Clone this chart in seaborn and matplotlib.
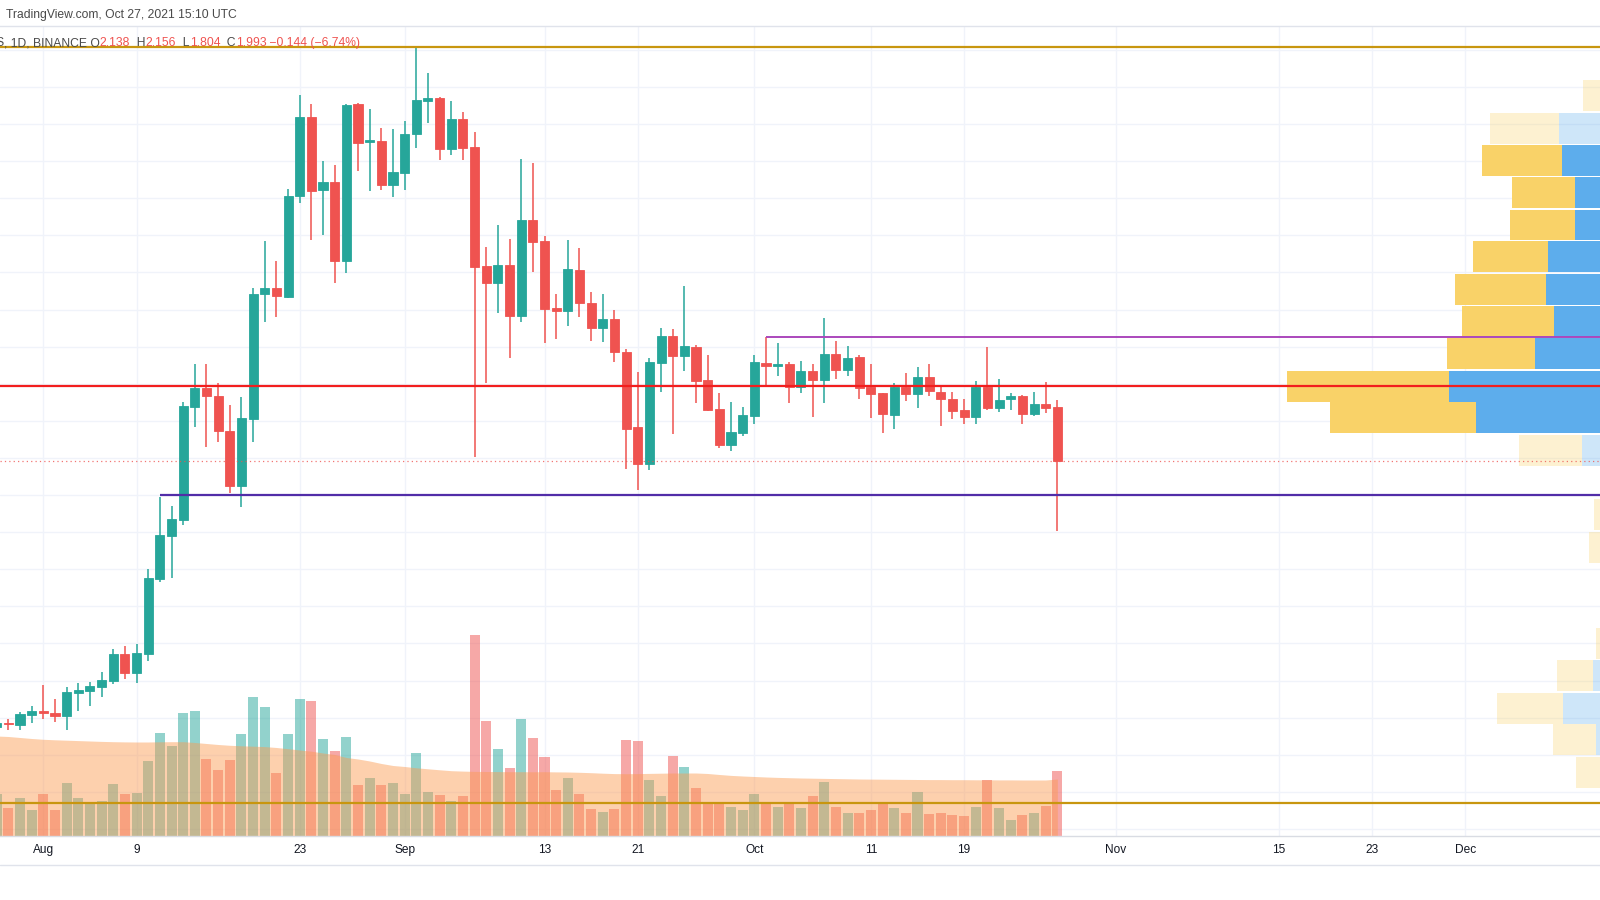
import numpy as np
import pandas as pd
import matplotlib
matplotlib.use("Agg")
import matplotlib.pyplot as plt
import matplotlib.dates as mdates
from matplotlib.lines import Line2D
from matplotlib.text import Annotation
import seaborn as sns

# ---------------- data ----------------
dates = pd.date_range("2021-07-28", "2021-10-27", freq="D")

opens = [1.275, 1.287, 1.280, 1.308,
         1.319, 1.313, 1.305, 1.366, 1.372, 1.384, 1.399, 1.471, 1.421, 1.471, 1.674, 1.791, 1.832, 2.138, 2.189, 2.167,
         2.074, 1.925, 2.105, 2.442, 2.459, 2.435, 2.707, 2.920, 2.722, 2.743, 2.531, 2.953, 2.851, 2.854, 2.736,
         2.769, 2.873, 2.962, 2.969, 2.833, 2.915, 2.837, 2.518, 2.473, 2.520, 2.384, 2.642, 2.584, 2.404, 2.397,
         2.507, 2.419, 2.350, 2.374, 2.287, 2.083, 1.984, 2.257, 2.330, 2.276, 2.300, 2.209, 2.132, 2.035, 2.067,
         2.113, 2.255, 2.249, 2.253, 2.191, 2.234, 2.210, 2.280, 2.237, 2.271, 2.191, 2.174, 2.116, 2.191, 2.172,
         2.219, 2.179, 2.159, 2.129, 2.111, 2.192, 2.136, 2.158, 2.167, 2.119, 2.146, 2.138]
highs = [1.295, 1.296, 1.316, 1.332,
         1.388, 1.350, 1.384, 1.394, 1.396, 1.423, 1.484, 1.493, 1.499, 1.702, 1.896, 1.871, 2.151, 2.253, 2.253, 2.201,
         2.143, 2.165, 2.457, 2.585, 2.532, 2.725, 2.978, 2.954, 2.801, 2.790, 2.954, 2.956, 2.940, 2.889, 2.887,
         2.909, 3.107, 3.037, 2.972, 2.962, 2.932, 2.880, 2.568, 2.628, 2.590, 2.805, 2.794, 2.598, 2.441, 2.588,
         2.565, 2.447, 2.441, 2.399, 2.294, 2.231, 2.269, 2.350, 2.347, 2.464, 2.305, 2.278, 2.176, 2.152, 2.138,
         2.278, 2.325, 2.311, 2.258, 2.261, 2.253, 2.377, 2.316, 2.302, 2.278, 2.253, 2.176, 2.201, 2.230, 2.246,
         2.253, 2.191, 2.179, 2.159, 2.208, 2.300, 2.212, 2.176, 2.170, 2.179, 2.206, 2.156]
lows = [1.262, 1.267, 1.267, 1.286,
        1.296, 1.289, 1.267, 1.319, 1.332, 1.357, 1.391, 1.405, 1.393, 1.454, 1.667, 1.677, 1.819, 2.083, 2.030, 2.044,
        1.905, 1.869, 2.044, 2.367, 2.381, 2.430, 2.686, 2.588, 2.601, 2.471, 2.498, 2.774, 2.720, 2.722, 2.704,
        2.722, 2.835, 2.902, 2.803, 2.817, 2.803, 2.002, 2.201, 2.392, 2.270, 2.367, 2.502, 2.309, 2.320, 2.356,
        2.381, 2.314, 2.312, 2.260, 1.970, 1.914, 1.968, 2.179, 2.064, 2.235, 2.147, 2.128, 2.028, 2.020, 2.058,
        2.092, 2.192, 2.221, 2.149, 2.174, 2.110, 2.149, 2.212, 2.221, 2.159, 2.107, 2.068, 2.077, 2.154, 2.136,
        2.168, 2.087, 2.105, 2.092, 2.091, 2.129, 2.125, 2.129, 2.091, 2.113, 2.122, 1.804]
closes = [1.287, 1.283, 1.310, 1.319,
          1.312, 1.305, 1.368, 1.374, 1.385, 1.402, 1.471, 1.421, 1.474, 1.677, 1.792, 1.835, 2.140, 2.189, 2.167, 2.073,
          1.925, 2.107, 2.442, 2.459, 2.437, 2.707, 2.920, 2.720, 2.743, 2.531, 2.951, 2.850, 2.857, 2.736, 2.771,
          2.873, 2.965, 2.969, 2.833, 2.915, 2.836, 2.516, 2.473, 2.520, 2.384, 2.642, 2.582, 2.402, 2.397, 2.509,
          2.417, 2.350, 2.374, 2.285, 2.077, 1.984, 2.260, 2.330, 2.276, 2.303, 2.208, 2.129, 2.035, 2.069, 2.116,
          2.260, 2.249, 2.253, 2.191, 2.234, 2.210, 2.280, 2.237, 2.269, 2.188, 2.172, 2.119, 2.191, 2.172, 2.219,
          2.181, 2.158, 2.127, 2.111, 2.192, 2.136, 2.156, 2.167, 2.119, 2.146, 2.136, 1.993]
volumes = [42, 28, 38, 26,
           42, 26, 53, 38, 34, 35, 52, 42, 43, 75, 103, 90, 123, 125, 77, 66,
           76, 102, 139, 129, 63, 102, 137, 135, 97, 85, 99, 51, 58, 51, 53,
           42, 83, 44, 41, 35, 40, 201, 115, 87, 68, 117, 98, 79, 46, 58,
           42, 27, 24, 27, 96, 95, 56, 40, 80, 69, 48, 32, 32, 29, 26,
           42, 32, 29, 32, 28, 40, 54, 29, 23, 23, 26, 32, 28, 23, 44,
           22, 23, 21, 20, 29, 56, 28, 16, 21, 23, 30, 65]
volume_ma = [100, 99.5, 98.5, 97.5,
             96.7, 96.2, 95.8, 95.4, 95.0, 94.6, 94.3, 94.1, 94.0, 94.0, 94.2, 94.3, 94.3, 93.5, 92.5, 91.5,
             90.7, 90.2, 89.8, 89.4, 88.5, 87.3, 86.0, 84.8, 83.0, 81.5, 78.5, 77.0, 75.0, 72.5, 70.5,
             69.5, 68.2, 67.2, 66.2, 65.3, 64.9, 64.6, 64.5, 64.4, 64.3, 64.3, 64.2, 64.3, 64.1, 64.0,
             63.7, 63.3, 62.8, 62.4, 62.3, 62.4, 62.6, 62.8, 63.0, 63.0, 63.0, 62.5, 61.5, 60.6, 60.0,
             59.5, 59.0, 58.6, 58.3, 58.0, 57.8, 57.6, 57.4, 57.2, 57.0, 56.9, 56.8, 56.7, 56.6, 56.5,
             56.4, 56.4, 56.3, 56.3, 56.2, 56.2, 56.1, 56.1, 56.0, 56.0, 56.0, 57.0]

profile_prices = [2.976, 2.889, 2.802, 2.715, 2.628, 2.542, 2.455, 2.368, 2.281, 2.194, 2.108,
                  2.021, 1.934, 1.847, 1.760, 1.674, 1.587, 1.500, 1.413, 1.326, 1.240, 1.153]
profile_down = [17, 69.3, 80.6, 63.3, 64.7, 74.7, 91, 91.7, 88, 161.7, 146,
                63.3, 0, 6, 11, 0, 0, 4, 35.7, 66.3, 43, 24.3]
profile_up = [0, 40.7, 37.7, 25, 25, 52, 54, 46, 65, 151, 123.7,
              18, 0, 0, 0, 0, 0, 0, 7, 36.7, 4, 0]
value_area = [False, False, True, True, True, True, True, True, True, True, True,
              False, False, False, False, False, False, False, False, False, False, False]

level_top = 3.108
level_bottom = 1.070
level_red = 2.193
level_purple = 2.325
level_purple_start = "2021-10-02"
level_navy = 1.900
level_navy_start = "2021-08-11"
last_price = 1.993

tick_dates = ["2021-08-01", "2021-08-09", "2021-08-23", "2021-09-01", "2021-09-13", "2021-09-21",
              "2021-10-01", "2021-10-11", "2021-10-19", "2021-11-01", "2021-11-15", "2021-11-23", "2021-12-01"]
tick_labels = ["Aug", "9", "23", "Sep", "13", "21", "Oct", "11", "19", "Nov", "15", "23", "Dec"]

header_line1 = "TradingView.com, Oct 27, 2021 15:10 UTC"
header_symbol = "Cardano / TetherUS"
header_segments = [(", 1D, BINANCE O", "label"), ("2.138", "value"), ("  H", "label"), ("2.156", "value"),
                   ("  L", "label"), ("1.804", "value"), ("  C", "label"), ("1.993", "value"),
                   (" \u22120.144 (\u22126.74%)", "value")]

# ---------------- style ----------------
sns.set_theme(style="white")
plt.rcParams["font.family"] = ["Liberation Sans", "DejaVu Sans"]

GREEN = "#26A69A"
RED = "#EF5350"
TEXT = "#131722"
HEAD = "#4A4A4A"
GRID = "#F0F3FA"

W, H = 1600, 900
fig = plt.figure(figsize=(16, 9), dpi=100, facecolor="white")
top_px, bot_px = 26, 836
rect = [0, (H - bot_px) / H, 1, (bot_px - top_px) / H]

ax = fig.add_axes(rect)
ax_vol = ax.twinx()
ax_prof = ax.twiny()
ax_vol.set_zorder(0)
ax_prof.set_zorder(1)
ax.set_zorder(2)
ax.patch.set_visible(False)
ax_prof.patch.set_visible(False)
ax_vol.patch.set_visible(True)
ax_vol.patch.set_facecolor("white")

x = mdates.date2num(dates)
px_per_day = 11.656
x_left = mdates.date2num(pd.Timestamp("2021-08-01")) - 43.3 / px_per_day
x_right = x_left + W / px_per_day
ax.set_xlim(x_left, x_right)
ax.set_ylim(0.9811, 3.1644)
ax_vol.set_ylim(0, bot_px - top_px)

# grid (bottom layer)
for p in np.arange(1.0, 3.16, 0.1):
    ax_vol.plot([0, 1], [p, p], transform=ax.get_yaxis_transform(), color=GRID, lw=1, zorder=0)
tick_nums = mdates.date2num(pd.to_datetime(tick_dates))
for t in tick_nums:
    ax_vol.axvline(t, color=GRID, lw=1, zorder=0)

# volume + volume MA area
up = np.array(closes) >= np.array(opens)
vcols = [GREEN if u else RED for u in up]
ax_vol.bar(x, volumes, width=0.86, color=vcols, alpha=0.5, linewidth=0, zorder=1)
ax_vol.fill_between(x, 0, volume_ma, color="#FB9B52", alpha=0.47, linewidth=0, zorder=2)

# visible-range volume profile
ax_prof.set_xlim(W, 0)
for i, pr in enumerate(profile_prices):
    a = 1.0 if value_area[i] else 0.3
    if profile_up[i] > 0:
        ax_prof.barh(pr, profile_up[i], left=0, height=0.0835, color="#5DADEC", alpha=a, linewidth=0)
    if profile_down[i] > 0:
        ax_prof.barh(pr, profile_down[i], left=profile_up[i], height=0.0835, color="#F9D268", alpha=a, linewidth=0)
ax_prof.set_ylim(ax.get_ylim())
ax_prof.axis("off")

# candles
ax.vlines(x, lows, highs, colors=vcols, lw=1.1, zorder=3)
body_bottom = np.minimum(opens, closes)
body_h = np.abs(np.array(closes) - np.array(opens))
ax.bar(x, body_h, bottom=body_bottom, width=0.78, color=vcols, edgecolor=vcols, linewidth=0.6, zorder=4)

# drawings
ax.axhline(level_top, color="#C8960F", lw=1.6, zorder=5)
ax.axhline(level_bottom, color="#C8960F", lw=1.6, zorder=5)
ax.axhline(level_red, color="#F21E1E", lw=1.6, zorder=5)
ax.hlines(level_purple, mdates.date2num(pd.Timestamp(level_purple_start)), x_right, color="#AB47BC", lw=1.4, zorder=5)
ax.hlines(level_navy, mdates.date2num(pd.Timestamp(level_navy_start)), x_right, color="#512DA8", lw=1.6, zorder=5)
ax.axhline(last_price, color=RED, lw=0.9, ls=(0, (1, 2.5)), alpha=0.8, zorder=5)

# axes cosmetics
ax.set_xticks(tick_nums)
ax.set_xticklabels(tick_labels)
ax.tick_params(axis="x", length=0, pad=6, labelsize=8.6, labelcolor=TEXT)
ax.tick_params(axis="y", left=False, labelleft=False)
ax_vol.tick_params(axis="y", right=False, labelright=False)
for s in ["left", "right"]:
    ax.spines[s].set_visible(False)
ax.spines["top"].set_color("#E0E3EB")
ax.spines["bottom"].set_color("#D9DCE3")
ax.spines["top"].set_linewidth(1)
ax.spines["bottom"].set_linewidth(1)
for s in ax_vol.spines.values():
    s.set_visible(False)

fig.add_artist(Line2D([0, 1], [1 - 865 / H, 1 - 865 / H], color="#E0E3EB", lw=1, transform=fig.transFigure))

# header
fs = 8.7
fig.text(6 / W, 1 - 15 / H, header_line1, fontsize=fs, color=HEAD, va="center", ha="left")
prev = fig.text(4 / W, 1 - 49 / H, header_symbol, fontsize=fs, color=HEAD, va="bottom", ha="right")
for s, kind in header_segments:
    prev = fig.add_artist(Annotation(s, xy=(1, 0), xycoords=prev, va="bottom", ha="left",
                                     fontsize=fs, color=HEAD if kind == "label" else RED))

fig.savefig("out.png", dpi=100, facecolor="white")
